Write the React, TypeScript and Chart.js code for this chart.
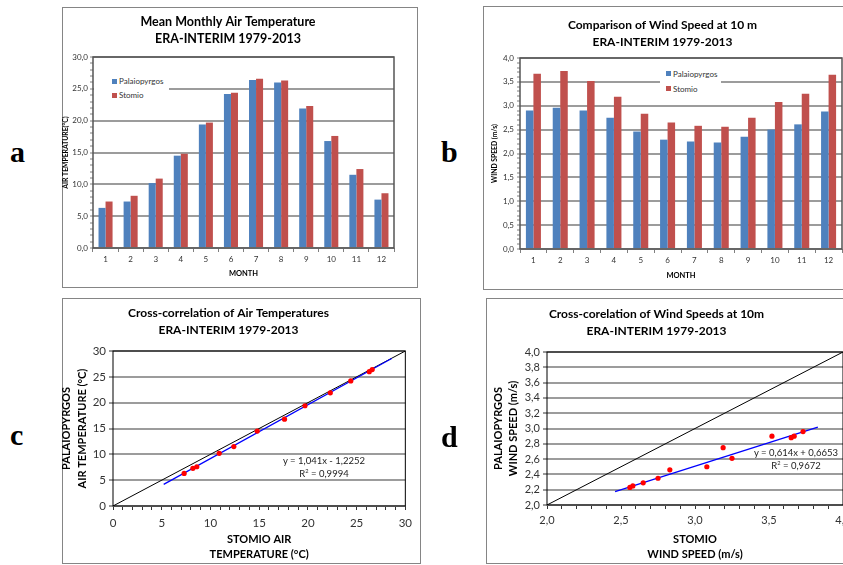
import React, { useEffect, useRef } from "react";
import { Chart, registerables } from "chart.js";

Chart.register(...registerables);

// ---------------- data ----------------
const months = ["1", "2", "3", "4", "5", "6", "7", "8", "9", "10", "11", "12"];
const seriesNames = ["Palaiopyrgos", "Stomio"];

const tempPalaio = [6.3, 7.3, 10.2, 14.5, 19.4, 24.2, 26.4, 26.0, 21.9, 16.8, 11.5, 7.6];
const tempStomio = [7.3, 8.2, 10.9, 14.8, 19.7, 24.4, 26.6, 26.3, 22.3, 17.6, 12.4, 8.6];

const windPalaio = [2.9, 2.96, 2.9, 2.75, 2.46, 2.29, 2.25, 2.23, 2.35, 2.5, 2.61, 2.88];
const windStomio = [3.67, 3.73, 3.52, 3.19, 2.83, 2.65, 2.58, 2.56, 2.75, 3.08, 3.25, 3.65];

const tempSlope = 1.041;
const tempIntercept = -1.2252;
const tempR2 = 0.9994;
const tempTrendX = [5.2, 28.6];
const tempDiag = [0, 30];

const windSlope = 0.614;
const windIntercept = 0.6653;
const windR2 = 0.9672;
const windTrendX = [2.46, 3.83];
const windDiag = [2, 4];

const titleA = ["Mean Monthly Air Temperature", "ERA-INTERIM 1979-2013"];
const titleB = ["Comparison of Wind Speed at 10 m", "ERA-INTERIM 1979-2013"];
const titleC = ["Cross-correlation of Air Temperatures", "ERA-INTERIM 1979-2013"];
const titleD = ["Cross-corelation of Wind Speeds at 10m", "ERA-INTERIM 1979-2013"];

// ---------------- style ----------------
const FONT = "Lato, 'Open Sans', 'Liberation Sans', sans-serif";
const BLUE = "#4F81BD";
const RED = "#C0504D";
const GRID = "#9c9c9c";

const comma = (v: number, d: number) => v.toFixed(d).replace(".", ",");
const eqText = (s: number, b: number) =>
  `y = ${comma(s, 3)}x ${b < 0 ? "-" : "+"} ${comma(Math.abs(b), 4)}`;

const framePlugin = {
  id: "frame",
  afterDatasetsDraw(chart: any, _args: any, opts: any) {
    const { ctx, chartArea } = chart;
    const { left, top, right, bottom } = chartArea;
    ctx.save();
    ctx.strokeStyle = opts.color || "#000";
    ctx.lineWidth = opts.width || 1;
    ctx.strokeRect(left, top, right - left, bottom - top);
    ctx.restore();
  },
};

function barConfig(p: {
  title: string[];
  titleSize: number;
  titlePad: { top: number; bottom: number };
  dataA: number[];
  dataB: number[];
  yMax: number;
  yStep: number;
  yMajorEvery: number;
  yDecimals: number;
  yTitle: string;
  yTitlePadTop: number;
  yWidth: number;
  xHeight: number;
  rightPad: number;
  yTickPad: number;
}) {
  const isMajor = (v: number) => Math.round(v / p.yStep) % p.yMajorEvery === 0;
  return {
    type: "bar",
    data: {
      labels: months,
      datasets: [
        { label: seriesNames[0], data: p.dataA, backgroundColor: BLUE, categoryPercentage: 0.56, barPercentage: 1 },
        { label: seriesNames[1], data: p.dataB, backgroundColor: RED, categoryPercentage: 0.56, barPercentage: 1 },
      ],
    },
    options: {
      animation: false,
      responsive: false,
      maintainAspectRatio: false,
      layout: { padding: { left: 0, right: p.rightPad, top: 0, bottom: 0 } },
      plugins: {
        legend: { display: false },
        tooltip: { enabled: false },
        title: {
          display: true,
          text: p.title,
          color: "#000",
          font: { family: FONT, size: p.titleSize, weight: "bold", lineHeight: 17 / p.titleSize },
          padding: p.titlePad,
        },
        frame: { color: "#555", width: 1.5 },
      },
      scales: {
        x: {
          offset: true,
          grid: { display: true, offset: true, drawOnChartArea: false, drawTicks: true, tickLength: 4, tickColor: "#7f7f7f", tickWidth: 1 },
          border: { display: false },
          ticks: { color: "#333", font: { family: FONT, size: 8 }, padding: 3 },
          title: {
            display: true,
            text: "MONTH",
            color: "#000",
            font: { family: FONT, size: 7.5, weight: "bold", lineHeight: 1.2 },
            padding: { top: 0, bottom: 8.5 },
          },
          afterFit: (s: any) => {
            s.height = p.xHeight;
          },
        },
        y: {
          min: 0,
          max: p.yMax,
          grid: {
            color: (c: any) => (c.tick && isMajor(c.tick.value) ? GRID : "rgba(0,0,0,0)"),
            lineWidth: 2,
            drawTicks: true,
            tickLength: 3,
            tickColor: "#7f7f7f",
            tickWidth: 1,
          },
          border: { display: false },
          ticks: {
            stepSize: p.yStep,
            autoSkip: false,
            color: "#333",
            font: { family: FONT, size: 8 },
            padding: p.yTickPad,
            callback: (v: any) => (isMajor(Number(v)) ? comma(Number(v), p.yDecimals) : ""),
          },
          title: {
            display: true,
            text: p.yTitle,
            color: "#000",
            font: { family: FONT, size: 6.8, weight: "bold", lineHeight: 1.2 },
            padding: { top: p.yTitlePadTop, bottom: 0 },
          },
          afterFit: (s: any) => {
            s.width = p.yWidth;
          },
        },
      },
    },
    plugins: [framePlugin],
  };
}

function scatterConfig(p: {
  title: string[];
  titleSize: number;
  titlePad: { top: number; bottom: number };
  xs: number[];
  ys: number[];
  slope: number;
  intercept: number;
  trendX: number[];
  diag: number[];
  xStep: number;
  xMajorEvery: number;
  yStep: number;
  decimals: number;
  xTitle: string[];
  yTitle: string[];
  yTitlePadTop: number;
  yWidth: number;
  xHeight: number;
  rightPad: number;
  tickSize: number;
  xTickPad: number;
}) {
  const fmt = (v: number) => (p.decimals ? comma(v, p.decimals) : String(Math.round(v)));
  const xMajor = (v: number) => Math.round((v - p.diag[0]) / p.xStep) % p.xMajorEvery === 0;
  return {
    type: "scatter",
    data: {
      datasets: [
        {
          label: "data",
          data: p.xs.map((x, i) => ({ x, y: p.ys[i] })),
          backgroundColor: "#ff0000",
          borderColor: "#ff0000",
          pointRadius: 2.6,
          borderWidth: 0,
          order: 0,
        },
        {
          label: "trend",
          data: p.trendX.map((x) => ({ x, y: p.slope * x + p.intercept })),
          showLine: true,
          borderColor: "#0000ff",
          borderWidth: 1.3,
          pointRadius: 0,
          fill: false,
          order: 1,
        },
        {
          label: "1:1",
          data: p.diag.map((v) => ({ x: v, y: v })),
          showLine: true,
          borderColor: "#000",
          borderWidth: 1,
          pointRadius: 0,
          fill: false,
          order: 2,
        },
      ],
    },
    options: {
      animation: false,
      responsive: false,
      maintainAspectRatio: false,
      layout: { padding: { left: 0, right: p.rightPad, top: 0, bottom: 0 } },
      plugins: {
        legend: { display: false },
        tooltip: { enabled: false },
        title: {
          display: true,
          text: p.title,
          color: "#000",
          font: { family: FONT, size: p.titleSize, weight: "bold", lineHeight: 17 / p.titleSize },
          padding: p.titlePad,
        },
        frame: { color: "#000", width: 1 },
      },
      scales: {
        x: {
          type: "linear",
          min: p.diag[0],
          max: p.diag[1],
          grid: { display: true, drawOnChartArea: false, drawTicks: true, tickLength: 4, tickColor: "#333", tickWidth: 1 },
          border: { display: false },
          ticks: {
            stepSize: p.xStep,
            autoSkip: false,
            maxRotation: 0,
            color: "#333",
            font: { family: FONT, size: p.tickSize },
            padding: p.xTickPad,
            callback: (v: any) => (xMajor(Number(v)) ? fmt(Number(v)) : ""),
          },
          title: {
            display: true,
            text: p.xTitle,
            color: "#000",
            font: { family: FONT, size: 11, weight: "bold", lineHeight: 15 / 11 },
            padding: { top: 0, bottom: 1.5 },
          },
          afterFit: (s: any) => {
            s.height = p.xHeight;
          },
        },
        y: {
          type: "linear",
          min: p.diag[0],
          max: p.diag[1],
          grid: { color: GRID, lineWidth: 2, drawTicks: true, tickLength: 4, tickColor: "#333", tickWidth: 1 },
          border: { display: false },
          ticks: {
            stepSize: p.yStep,
            autoSkip: false,
            color: "#333",
            font: { family: FONT, size: p.tickSize },
            padding: 3,
            callback: (v: any) => fmt(Number(v)),
          },
          title: {
            display: true,
            text: p.yTitle,
            color: "#000",
            font: { family: FONT, size: 11, weight: "bold", lineHeight: 15.5 / 11 },
            padding: { top: p.yTitlePadTop, bottom: 0 },
          },
          afterFit: (s: any) => {
            s.width = p.yWidth;
          },
        },
      },
    },
    plugins: [framePlugin],
  };
}

function ChartCanvas(props: { left: number; top: number; width: number; height: number; make: () => any }) {
  const ref = useRef<HTMLCanvasElement | null>(null);
  useEffect(() => {
    const chart = new Chart(ref.current as HTMLCanvasElement, props.make());
    return () => chart.destroy();
  }, []);
  const { left, top, width, height } = props;
  return (
    <canvas
      ref={ref}
      width={width}
      height={height}
      style={{ position: "absolute", left, top, width, height }}
    />
  );
}

const boxStyle = (left: number, top: number, width: number, height: number): React.CSSProperties => ({
  position: "absolute",
  left,
  top,
  width,
  height,
  border: "1px solid #858585",
  boxSizing: "border-box",
});

const letterStyle = (left: number, top: number): React.CSSProperties => ({
  position: "absolute",
  left,
  top,
  fontFamily: "'Liberation Serif', 'DejaVu Serif', serif",
  fontWeight: "bold",
  fontSize: 30,
  lineHeight: "30px",
  color: "#000",
});

function Legend(props: { left: number; top: number; width: number; height: number; boxX: number; rows: number[] }) {
  const colors = [BLUE, RED];
  return (
    <div style={{ position: "absolute", left: props.left, top: props.top, width: props.width, height: props.height, background: "#fff" }}>
      {seriesNames.map((n, i) => (
        <div
          key={n}
          style={{
            position: "absolute",
            left: props.boxX,
            top: props.rows[i] - 6,
            height: 12,
            display: "flex",
            alignItems: "center",
            fontFamily: FONT,
            fontSize: 8,
            color: "#333",
            whiteSpace: "nowrap",
          }}
        >
          <span style={{ display: "inline-block", width: 5, height: 5, background: colors[i], marginRight: 2 }} />
          {n}
        </div>
      ))}
    </div>
  );
}

function Equation(props: { cx: number; y1: number; y2: number; eq: string; r2: number; size: number }) {
  const s: React.CSSProperties = {
    position: "absolute",
    width: 140,
    left: props.cx - 70,
    textAlign: "center",
    fontFamily: FONT,
    fontSize: props.size,
    lineHeight: "12px",
    color: "#222",
    whiteSpace: "nowrap",
  };
  return (
    <>
      <div style={{ ...s, top: props.y1 - 6 }}>{props.eq}</div>
      <div style={{ ...s, top: props.y2 - 6 }}>
        R<sup style={{ fontSize: props.size * 0.6, verticalAlign: "4px", lineHeight: 0 }}>2</sup> = {comma(props.r2, 4)}
      </div>
    </>
  );
}

export default function App() {
  useEffect(() => {
    document.body.style.margin = "0";
  }, []);
  return (
    <div style={{ position: "absolute", left: 0, top: 0, width: 843, height: 565, overflow: "hidden", background: "#fff" }}>
      <div style={boxStyle(62, 7, 356, 281)} />
      <div style={boxStyle(483, 6, 380, 284)} />
      <div style={boxStyle(62, 298, 359, 266)} />
      <div style={boxStyle(486, 298, 380, 266)} />

      <ChartCanvas
        left={62}
        top={7}
        width={344}
        height={280}
        make={() =>
          barConfig({
            title: titleA,
            titleSize: 12.5,
            titlePad: { top: 6.5, bottom: 9.5 },
            dataA: tempPalaio,
            dataB: tempStomio,
            yMax: 30,
            yStep: 1,
            yMajorEvery: 5,
            yDecimals: 1,
            yTitle: "AIR TEMPERATURE(°C)",
            yTitlePadTop: 0,
            yWidth: 31,
            xHeight: 39,
            rightPad: 12,
            yTickPad: 2,
          })
        }
      />
      <ChartCanvas
        left={483}
        top={6}
        width={374}
        height={283}
        make={() =>
          barConfig({
            title: titleB,
            titleSize: 12,
            titlePad: { top: 10.5, bottom: 7.5 },
            dataA: windPalaio,
            dataB: windStomio,
            yMax: 4,
            yStep: 0.1,
            yMajorEvery: 5,
            yDecimals: 1,
            yTitle: "WIND SPEED (m/s)",
            yTitlePadTop: 7.8,
            yWidth: 37,
            xHeight: 40,
            rightPad: 15,
            yTickPad: 3,
          })
        }
      />
      <ChartCanvas
        left={50}
        top={298}
        width={368}
        height={265}
        make={() =>
          scatterConfig({
            title: titleC,
            titleSize: 12,
            titlePad: { top: 6.5, bottom: 12.5 },
            xs: tempStomio,
            ys: tempPalaio,
            slope: tempSlope,
            intercept: tempIntercept,
            trendX: tempTrendX,
            diag: tempDiag,
            xStep: 1,
            xMajorEvery: 5,
            yStep: 5,
            decimals: 0,
            xTitle: ["STOMIO AIR", "TEMPERATURE (°C)"],
            yTitle: ["PALAIOPYRGOS", "AIR TEMPERATURE (°C)"],
            yTitlePadTop: 9.2,
            yWidth: 63,
            xHeight: 57,
            rightPad: 11,
            tickSize: 11.5,
            xTickPad: 6,
          })
        }
      />
      <ChartCanvas
        left={470}
        top={298}
        width={392}
        height={265}
        make={() =>
          scatterConfig({
            title: titleD,
            titleSize: 12,
            titlePad: { top: 7.5, bottom: 12.5 },
            xs: windStomio,
            ys: windPalaio,
            slope: windSlope,
            intercept: windIntercept,
            trendX: windTrendX,
            diag: windDiag,
            xStep: 0.1,
            xMajorEvery: 5,
            yStep: 0.2,
            decimals: 1,
            xTitle: ["STOMIO", "WIND SPEED (m/s)"],
            yTitle: ["PALAIOPYRGOS", "WIND SPEED (m/s)"],
            yTitlePadTop: 20.5,
            yWidth: 77,
            xHeight: 58,
            rightPad: 19,
            tickSize: 11,
            xTickPad: 4.4,
          })
        }
      />

      <Legend left={94} top={71} width={75} height={33} boxX={18} rows={[10, 24]} />
      <Legend left={660} top={64} width={61} height={33} boxX={6} rows={[9.5, 24.5]} />

      <Equation cx={324} y1={461} y2={474} eq={eqText(tempSlope, tempIntercept)} r2={tempR2} size={9.5} />
      <Equation cx={796} y1={453} y2={466} eq={eqText(windSlope, windIntercept)} r2={windR2} size={9.5} />

      <div style={letterStyle(10, 137)}>a</div>
      <div style={letterStyle(441, 137)}>b</div>
      <div style={letterStyle(10, 420)}>c</div>
      <div style={letterStyle(441, 422)}>d</div>
    </div>
  );
}
